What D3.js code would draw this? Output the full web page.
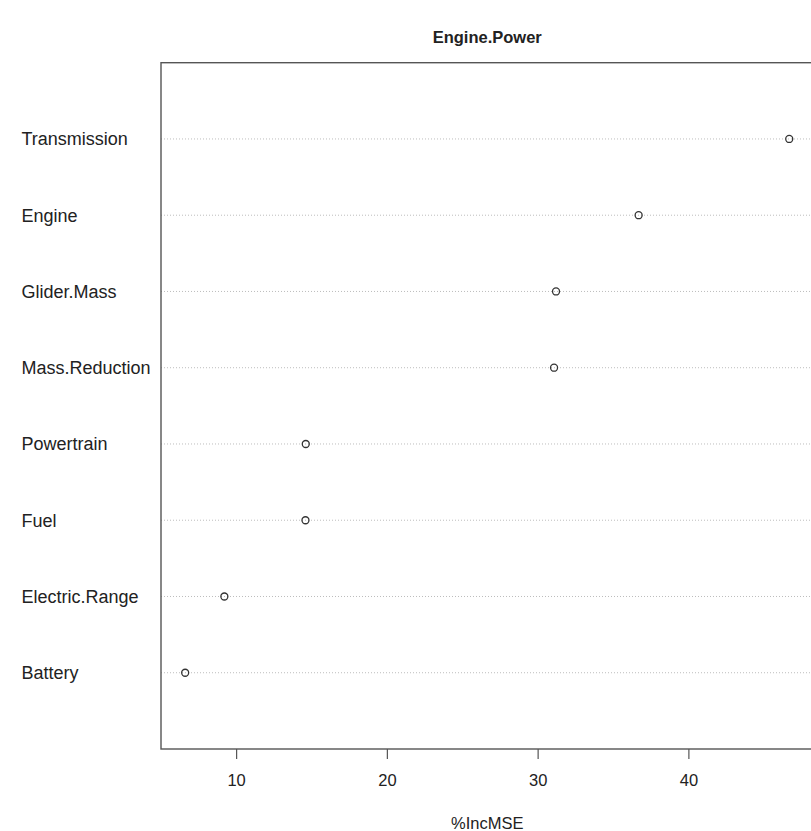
<!DOCTYPE html>
<html>
<head>
<meta charset="utf-8">
<script src="https://cdn.jsdelivr.net/npm/d3@7"></script>
<style>
  html, body { margin: 0; padding: 0; background: #fff; }
  svg { display: block; }
  text { font-family: "Liberation Sans", Arial, sans-serif; fill: #222; }
</style>
</head>
<body>
<script>
// Variable importance (%IncMSE) for the Engine.Power model, top to bottom
const variables = ["Transmission", "Engine", "Glider.Mass", "Mass.Reduction",
                   "Powertrain", "Fuel", "Electric.Range", "Battery"];
const incMSE = [46.69, 36.70, 31.22, 31.09, 14.62, 14.60, 9.22, 6.62];
const xTicks = [10, 20, 30, 40];
const chartTitle = "Engine.Power";
const xTitle = "%IncMSE";

const W = 811, H = 831;
const margin = { left: 161, right: -2.4, top: 62.7, bottom: 82 };
const plotW = W - margin.left - margin.right;
const plotH = H - margin.top - margin.bottom;

const svg = d3.select("body").append("svg")
  .attr("width", W).attr("height", H);

// x domain padded 4% on each side, like a base-graphics dot chart
const lo = d3.min(incMSE), hi = d3.max(incMSE), pad = (hi - lo) * 0.04;
const x = d3.scaleLinear().domain([lo - pad, hi + pad])
  .range([margin.left, margin.left + plotW]);

// rows sit at 1..n, bottom row first; the frame spans 0..n+1
const n = variables.length;
const y = d3.scaleLinear().domain([0, n + 1])
  .range([margin.top + plotH, margin.top]);
const rowPos = (i) => y(n - i);

// dotted guide lines
svg.append("g").selectAll("line").data(variables).join("line")
  .attr("x1", margin.left).attr("x2", margin.left + plotW)
  .attr("y1", (d, i) => rowPos(i)).attr("y2", (d, i) => rowPos(i))
  .attr("stroke", "#bdbdbd").attr("stroke-width", 1)
  .attr("stroke-dasharray", "1,2");

// points
svg.append("g").selectAll("circle").data(incMSE).join("circle")
  .attr("cx", d => x(d)).attr("cy", (d, i) => rowPos(i))
  .attr("r", 3.5).attr("fill", "none")
  .attr("stroke", "#333").attr("stroke-width", 1.3);

// row labels
svg.append("g").selectAll("text").data(variables).join("text")
  .attr("x", 21.5).attr("y", (d, i) => rowPos(i))
  .attr("dy", "0.35em")
  .style("font-size", "18px")
  .text(d => d);

// frame
svg.append("rect")
  .attr("x", margin.left).attr("y", margin.top)
  .attr("width", plotW).attr("height", plotH)
  .attr("fill", "none").attr("stroke", "#555").attr("stroke-width", 1.4);

// bottom axis
const axis = svg.append("g")
  .attr("transform", `translate(0,${margin.top + plotH})`)
  .call(d3.axisBottom(x).tickValues(xTicks).tickSize(10).tickPadding(15)
    .tickFormat(d3.format("d")));
axis.select(".domain").remove();
axis.selectAll(".tick line").attr("stroke", "#555").attr("stroke-width", 1.2);
axis.selectAll(".tick text")
  .style("font-family", '"Liberation Sans", Arial, sans-serif')
  .style("font-size", "16.5px").attr("fill", "#222");

// titles
svg.append("text")
  .attr("x", margin.left + plotW / 2).attr("y", 43)
  .attr("text-anchor", "middle")
  .style("font-size", "16.5px").style("font-weight", "bold")
  .text(chartTitle);

svg.append("text")
  .attr("x", margin.left + plotW / 2).attr("y", 829)
  .attr("text-anchor", "middle")
  .style("font-size", "16.5px")
  .text(xTitle);
</script>
</body>
</html>
